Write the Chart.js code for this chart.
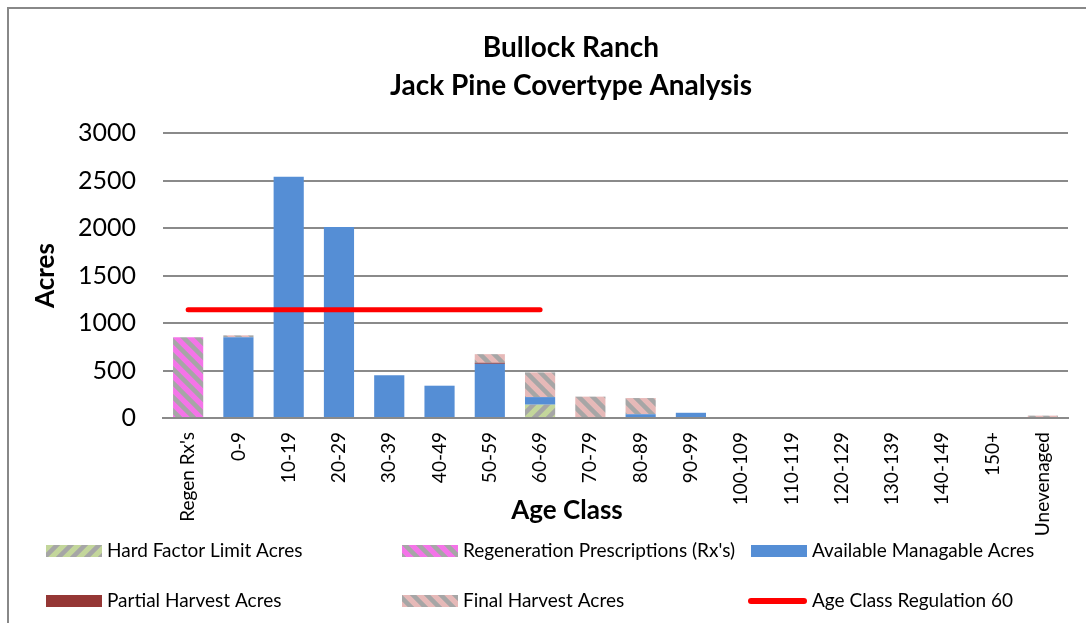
<!DOCTYPE html>
<html>
<head>
<meta charset="utf-8">
<script src="https://cdn.jsdelivr.net/npm/chart.js@4/dist/chart.umd.min.js"></script>
<style>
  body { margin: 0; background: #fff; }
  #wrap { position: relative; width: 1086px; height: 623px; }
  #frame { position: absolute; left: 7px; top: 7px; width: 1100px; height: 700px; border: 2px solid #888; box-sizing: border-box; }
  canvas { position: absolute; left: 0; top: 0; }
</style>
</head>
<body>
<div id="wrap">
  <div id="frame"></div>
  <canvas id="myChart" width="1086" height="623"></canvas>
</div>
<script>
var ageClasses = ["Regen Rx's", '0-9', '10-19', '20-29', '30-39', '40-49', '50-59', '60-69', '70-79',
    '80-89', '90-99', '100-109', '110-119', '120-129', '130-139', '140-149', '150+', 'Unevenaged'];
var hardFactor = [0, 0, 0, 0, 0, 0, 0, 140, 0, 0, 0, 0, 0, 0, 0, 0, 0, 0];
var regenRx    = [850, 0, 0, 0, 0, 0, 0, 0, 0, 0, 0, 0, 0, 0, 0, 0, 0, 0];
var available  = [0, 850, 2540, 2010, 450, 340, 570, 80, 0, 40, 55, 0, 0, 0, 0, 0, 0, 0];
var partial    = [0, 0, 0, 0, 0, 0, 12, 0, 0, 0, 0, 0, 0, 0, 0, 0, 0, 0];
var finalHarv  = [0, 20, 0, 0, 0, 0, 90, 260, 225, 170, 0, 0, 0, 0, 0, 0, 0, 25];
var regulation = [1140, 1140, 1140, 1140, 1140, 1140, 1140, 1140, null, null, null, null, null, null, null, null, null, null];
var yTicks = [0, 500, 1000, 1500, 2000, 2500, 3000];

var FONT = 'Lato, "Open Sans", sans-serif';

function stripes(bg, dir) {
    var s = 14;
    var c = document.createElement('canvas');
    c.width = s; c.height = s;
    var g = c.getContext('2d');
    g.fillStyle = bg;
    g.fillRect(0, 0, s, s);
    g.strokeStyle = '#a6a6a6';
    g.lineWidth = 4.5;
    g.beginPath();
    if (dir > 0) {
        // "/" stripes
        g.moveTo(-s, s); g.lineTo(s, -s);
        g.moveTo(0, 2 * s); g.lineTo(2 * s, 0);
        g.moveTo(0, s); g.lineTo(s, 0);
    } else {
        // "\" stripes
        g.moveTo(-s, 0); g.lineTo(s, 2 * s);
        g.moveTo(0, -s); g.lineTo(2 * s, s);
        g.moveTo(0, 0); g.lineTo(s, s);
    }
    g.stroke();
    return g.createPattern(c, 'repeat');
}

var greenPat = stripes('#c3d69b', 1);
var magentaPat = stripes('#f474e8', -1);
var pinkPat = stripes('#e6b9b8', -1);

var legendItems = [
    { text: 'Hard Factor Limit Acres', fill: greenPat },
    { text: "Regeneration Prescriptions (Rx's)", fill: magentaPat },
    { text: 'Available Managable Acres', fill: '#558ed5' },
    { text: 'Partial Harvest Acres', fill: '#953735' },
    { text: 'Final Harvest Acres', fill: pinkPat },
    { text: 'Age Class Regulation 60', line: '#ff0000' }
];

var extras = {
    id: 'extras',
    afterDraw: function(chart) {
        var ctx = chart.ctx;
        ctx.save();
        ctx.fillStyle = '#000';
        ctx.textAlign = 'center';
        ctx.textBaseline = 'middle';
        // chart title
        ctx.font = 'bold 28px ' + FONT;
        ctx.fillText('Bullock Ranch', 571, 48);
        ctx.fillText('Jack Pine Covertype Analysis', 571, 86);
        // x axis title
        ctx.font = 'bold 26px ' + FONT;
        ctx.fillText('Age Class', 567, 511);
        // legend
        var cols = [46, 402, 751];
        var rows = [551, 601];
        ctx.font = '19px ' + FONT;
        ctx.textAlign = 'left';
        legendItems.forEach(function(item, i) {
            var x = cols[i % 3], y = rows[Math.floor(i / 3)];
            if (item.line) {
                ctx.strokeStyle = item.line;
                ctx.lineWidth = 6;
                ctx.lineCap = 'round';
                ctx.beginPath();
                ctx.moveTo(x, y);
                ctx.lineTo(x + 53, y);
                ctx.stroke();
            } else {
                ctx.fillStyle = item.fill;
                ctx.fillRect(x, y - 6, 56, 12);
            }
            ctx.fillStyle = '#000';
            ctx.fillText(item.text, x + 61, y);
        });
        ctx.restore();
    }
};

function barSet(label, data, color) {
    return {
        type: 'bar',
        label: label,
        data: data,
        backgroundColor: color,
        borderWidth: 0,
        barPercentage: 0.6,
        categoryPercentage: 1.0,
        stack: 'acres',
        order: 1
    };
}

var ctx = document.getElementById('myChart').getContext('2d');
var myChart = new Chart(ctx, {
    data: {
        labels: ageClasses,
        datasets: [
            barSet('Hard Factor Limit Acres', hardFactor, greenPat),
            barSet("Regeneration Prescriptions (Rx's)", regenRx, magentaPat),
            barSet('Available Managable Acres', available, '#558ed5'),
            barSet('Partial Harvest Acres', partial, '#953735'),
            barSet('Final Harvest Acres', finalHarv, pinkPat),
            {
                type: 'line',
                label: 'Age Class Regulation 60',
                data: regulation,
                borderColor: '#ff0000',
                borderWidth: 5,
                borderCapStyle: 'round',
                pointRadius: 0,
                fill: false,
                order: 0
            }
        ]
    },
    options: {
        responsive: false,
        animation: false,
        layout: { padding: { left: 30, right: 18, top: 133, bottom: 80 } },
        plugins: {
            legend: { display: false },
            title: { display: false },
            tooltip: { enabled: false }
        },
        scales: {
            x: {
                stacked: true,
                grid: { display: false },
                border: { display: true, color: '#8a8a8a', width: 2 },
                ticks: {
                    color: '#000',
                    font: { family: FONT, size: 19 },
                    minRotation: 90,
                    maxRotation: 90,
                    autoSkip: false,
                    padding: 6
                },
                afterFit: function(scale) { scale.height = 125; }
            },
            y: {
                stacked: true,
                min: 0,
                max: 3000,
                afterBuildTicks: function(scale) {
                    scale.ticks = yTicks.map(function(v) { return { value: v }; });
                },
                grid: { color: '#8a8a8a', lineWidth: 2, drawTicks: false },
                border: { display: false },
                ticks: {
                    color: '#000',
                    font: { family: FONT, size: 25 },
                    padding: 27,
                    callback: function(v) { return String(v); }
                },
                title: {
                    display: true,
                    text: 'Acres',
                    color: '#000',
                    font: { family: FONT, size: 26, weight: 'bold' },
                    padding: { top: 0, bottom: 0 }
                },
                afterFit: function(scale) { scale.width = 133; }
            }
        }
    },
    plugins: [extras]
});
</script>
</body>
</html>
